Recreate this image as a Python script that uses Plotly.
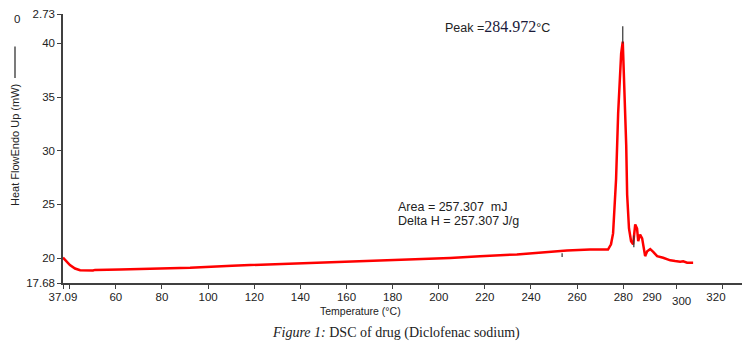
import plotly.graph_objects as go

# DSC curve (temperature in axis units, heat flow in mW)
temperature = [37.09, 38.4, 40.1, 42.3, 44.5, 50.1, 51.0, 61.8, 74.8, 92.2, 110.4,
               136.8, 160.2, 183.2, 204.9, 217.9, 233.9, 255.6, 265.6, 273.4, 274.7,
               275.6, 276.9, 277.8, 279.1, 279.8, 280.4, 281.3, 281.7, 282.5, 283.4,
               284.3, 285.2, 286.0, 286.5, 287.3, 288.2, 288.6, 289.5, 290.4, 291.7,
               293.0, 294.7, 297.3, 300.4, 302.5, 304.7, 306.0, 307.7, 310.3]
heat_flow = [20.05, 19.72, 19.35, 19.03, 18.87, 18.85, 18.90, 18.94, 19.01, 19.10, 19.29,
             19.48, 19.66, 19.84, 20.02, 20.18, 20.34, 20.71, 20.80, 20.80, 21.29,
             22.30, 27.37, 33.50, 39.06, 40.17, 36.57, 30.50, 25.90, 22.76, 21.57,
             21.29, 23.13, 22.76, 21.57, 22.20, 21.84, 21.38, 20.18, 20.64, 20.83,
             20.58, 20.18, 20.03, 19.79, 19.72, 19.66, 19.70, 19.57, 19.57]

# small black instrument marks
mark_x = [279.8, 284.6, 253.5]
mark_lo = [40.0, 21.0, 20.1]
mark_hi = [41.6, 22.1, 20.45]

x_tickvals = [37.09, 60, 80, 100, 120, 140, 160, 180, 200, 220, 240, 260, 280, 292.5, 320.2]
x_ticktext = ["37.09", "60", "80", "100", "120", "140", "160", "180", "200", "220",
              "240", "260", "280", "290", "320"]
x_minor_ticks = [37.09, 39.7, 60, 80, 100, 120, 140, 160, 180, 200, 220, 240, 260, 280, 302.9, 322.9]

y_tickvals = [17.68, 20, 25, 30, 35, 40, 42.74]
y_ticktext = ["17.68", "20", "25", "30", "35", "40", "2.73"]

X_RANGE = [37.09, 331.5]
Y_RANGE = [17.68, 42.74]

FONT = "Arial, Liberation Sans, sans-serif"
SERIF = "Liberation Serif, Times New Roman, serif"
AX = "#404040"

fig = go.Figure()
fig.add_trace(go.Scatter(x=temperature, y=heat_flow, mode="lines",
                         line=dict(color="#ff0000", width=2.5), hoverinfo="skip"))

mx, my = [], []
for x, lo, hi in zip(mark_x, mark_lo, mark_hi):
    mx += [x, x, None]
    my += [lo, hi, None]
fig.add_trace(go.Scatter(x=mx, y=my, mode="lines",
                         line=dict(color="#333333", width=1.2), hoverinfo="skip"))

fig.update_layout(
    width=750, height=344,
    margin=dict(l=63, r=8, t=10, b=61),
    paper_bgcolor="white", plot_bgcolor="white",
    showlegend=False,
    font=dict(family=FONT, size=11, color="#222222"),
    xaxis=dict(range=X_RANGE, showgrid=False, zeroline=False,
               showline=True, linecolor=AX, linewidth=1.5,
               tickmode="array", tickvals=x_tickvals, ticktext=x_ticktext,
               ticks="", ticklabelstandoff=2,
               tickfont=dict(family=FONT, size=11.5, color="#222222"),
               minor=dict(tickmode="array", tickvals=x_minor_ticks, ticks="outside",
                          ticklen=4, tickcolor=AX, tickwidth=1.2, showgrid=False)),
    yaxis=dict(range=Y_RANGE, showgrid=False, zeroline=False,
               showline=True, linecolor=AX, linewidth=1.5,
               tickmode="array", tickvals=y_tickvals, ticktext=y_ticktext,
               ticks="outside", ticklen=4, tickcolor=AX, tickwidth=1.2,
               tickfont=dict(family=FONT, size=11.5, color="#222222")),
)

ann = [
    dict(xref="paper", yref="paper", x=(681 - 63) / 679, y=-(301 - 283) / 273,
         text="300", showarrow=False, font=dict(family=FONT, size=11.5, color="#222222"),
         xanchor="center", yanchor="middle"),
    dict(xref="paper", yref="paper", x=(360 - 63) / 679, y=-(311 - 283) / 273,
         text="Temperature (°C)", showarrow=False,
         font=dict(family=FONT, size=10.5, color="#222222"), xanchor="center", yanchor="middle"),
    dict(xref="paper", yref="paper", x=(396 - 63) / 679, y=-(334 - 283) / 273,
         text="<i>Figure 1:</i> DSC of drug (Diclofenac sodium)", showarrow=False,
         font=dict(family=SERIF, size=14, color="#222222"), xanchor="center", yanchor="middle"),
    dict(xref="paper", yref="paper", x=(15 - 63) / 679, y=(283 - 143) / 273,
         text="Heat FlowEndo Up (mW)", textangle=-90, showarrow=False,
         font=dict(family=FONT, size=11, color="#222222"), xanchor="center", yanchor="middle"),
    dict(xref="paper", yref="paper", x=(17 - 63) / 679, y=(283 - 15) / 273,
         text="0", showarrow=False, font=dict(family=FONT, size=11.5, color="#222222"),
         xanchor="center", yanchor="middle"),
    dict(xref="paper", yref="paper", x=(443 - 63) / 679, y=(283 - 23) / 273,
         text="Peak =<span style='font-family:Liberation Serif;font-size:16px;color:#1a1a3a'>284.972</span>°C",
         showarrow=False, font=dict(family=FONT, size=12.5, color="#222222"),
         xanchor="left", yanchor="middle"),
    dict(xref="paper", yref="paper", x=(396 - 63) / 679, y=(283 - 206) / 273,
         text="Area = 257.307  mJ", showarrow=False,
         font=dict(family=FONT, size=12.5, color="#222222"), xanchor="left", yanchor="middle"),
    dict(xref="paper", yref="paper", x=(396 - 63) / 679, y=(283 - 220) / 273,
         text="Delta H = 257.307 J/g", showarrow=False,
         font=dict(family=FONT, size=12.5, color="#222222"), xanchor="left", yanchor="middle"),
]
fig.update_layout(annotations=ann)

fig.add_shape(type="line", xref="paper", yref="paper",
              x0=(15 - 63) / 679, x1=(15 - 63) / 679,
              y0=(283 - 43) / 273, y1=(283 - 75) / 273,
              line=dict(color="#222222", width=1.2))

fig.write_html("out.html")
